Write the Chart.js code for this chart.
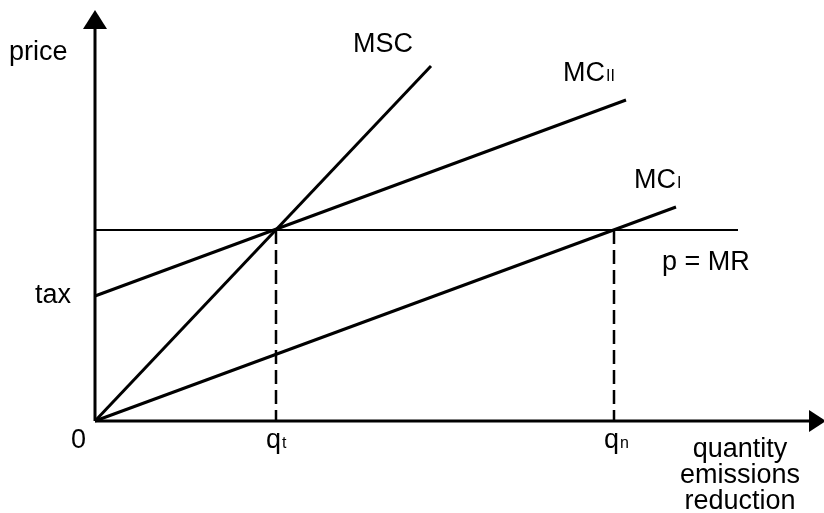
<!DOCTYPE html>
<html>
<head>
<meta charset="utf-8">
<script src="https://cdn.jsdelivr.net/npm/chart.js@4/dist/chart.umd.min.js"></script>
<style>
  html, body { margin: 0; padding: 0; background: #fff; }
  #wrap { width: 824px; height: 513px; position: relative; }
</style>
</head>
<body>
<div id="wrap"><canvas id="chart"></canvas></div>
<script>
// axis extents (data units)
const xMax = 729;
const yMax = 411;

// key levels
const tickValues = [0, 181, 519];
const tickLabels = ['0', 'q', 'q'];
const tickSubs = ['', 't', 'n'];
const priceLevel = 191;
const taxLevel = 125;

// curves
const mscX = [0, 336];
const mscY = [0, 355];
const mc2X = [0, 531];
const mc2Y = [taxLevel, 321];
const mc1X = [0, 581];
const mc1Y = [0, 214];
const mrX = [0, 643];
const mrY = [priceLevel, priceLevel];

const pts = (xs, ys) => xs.map((x, i) => ({ x, y: ys[i] }));

const line = (data, extra) => Object.assign({
  data,
  borderColor: '#000',
  borderWidth: 3,
  pointRadius: 0,
  tension: 0,
  showLine: true,
  fill: false,
  clip: false
}, extra);

// text labels, anchored in data units (x = left edge, y = baseline)
const labels = [
  { text: 'price', x: -86, y: 361 },
  { text: 'MSC', x: 258, y: 369 },
  { text: 'MC', sub: 'II', x: 468, y: 340 },
  { text: 'MC', sub: 'I', x: 539, y: 233 },
  { text: 'p = MR', x: 567, y: 151 },
  { text: 'tax', x: -60, y: taxLevel - 7 },
];
const xTitle = ['quantity', 'emissions', 'reduction'];

const FONT = '27px "Liberation Sans", Arial, sans-serif';
const SUBFONT = '16px "Liberation Sans", Arial, sans-serif';

function drawText(ctx, text, sub, px, py) {
  ctx.font = FONT;
  ctx.fillText(text, px, py);
  if (sub) {
    const w = ctx.measureText(text).width;
    ctx.font = SUBFONT;
    ctx.fillText(sub, px + w + 1, py);
  }
}

const decorations = {
  id: 'decorations',
  afterDatasetsDraw(chart) {
    const { ctx, scales: { x, y } } = chart;
    ctx.save();
    ctx.fillStyle = '#000';

    // arrowheads
    const ox = x.getPixelForValue(0);
    const oy = y.getPixelForValue(0);
    const ty = y.getPixelForValue(yMax);
    ctx.beginPath();
    ctx.moveTo(ox, ty);
    ctx.lineTo(ox - 12, ty + 19);
    ctx.lineTo(ox + 12, ty + 19);
    ctx.closePath();
    ctx.fill();
    const tx = x.getPixelForValue(xMax) + 2;
    ctx.beginPath();
    ctx.moveTo(tx, oy);
    ctx.lineTo(tx - 17, oy - 11);
    ctx.lineTo(tx - 17, oy + 11);
    ctx.closePath();
    ctx.fill();

    ctx.textBaseline = 'alphabetic';
    ctx.textAlign = 'left';
    labels.forEach(l => {
      drawText(ctx, l.text, l.sub, x.getPixelForValue(l.x), y.getPixelForValue(l.y));
    });

    // tick labels under the x axis
    tickValues.forEach((v, i) => {
      const off = i === 0 ? -24 : -10;
      drawText(ctx, tickLabels[i], tickSubs[i], x.getPixelForValue(v) + off, oy + 27);
    });

    // x axis title
    ctx.font = FONT;
    ctx.textAlign = 'center';
    xTitle.forEach((t, i) => {
      ctx.fillText(t, x.getPixelForValue(645), oy + 36 + i * 26);
    });
    ctx.restore();
  }
};

new Chart(document.getElementById('chart'), {
  type: 'scatter',
  data: {
    datasets: [
      line(pts([0, 0], [0, yMax - 15])),
      line(pts([0, xMax - 10], [0, 0])),
      line(pts(mrX, mrY), { borderWidth: 2 }),
      line(pts([tickValues[1], tickValues[1]], [priceLevel, 0]), { borderWidth: 2.5, borderDash: [14, 6] }),
      line(pts([tickValues[2], tickValues[2]], [priceLevel, 0]), { borderWidth: 2.5, borderDash: [14, 6] }),
      line(pts(mscX, mscY)),
      line(pts(mc2X, mc2Y)),
      line(pts(mc1X, mc1Y)),
    ]
  },
  options: {
    responsive: true,
    maintainAspectRatio: false,
    animation: false,
    layout: { padding: { left: 95, right: 0, top: 10, bottom: 92 } },
    scales: {
      x: { type: 'linear', min: 0, max: xMax, display: false },
      y: { type: 'linear', min: 0, max: yMax, display: false }
    },
    plugins: {
      legend: { display: false },
      tooltip: { enabled: false }
    }
  },
  plugins: [decorations]
});
</script>
</body>
</html>
